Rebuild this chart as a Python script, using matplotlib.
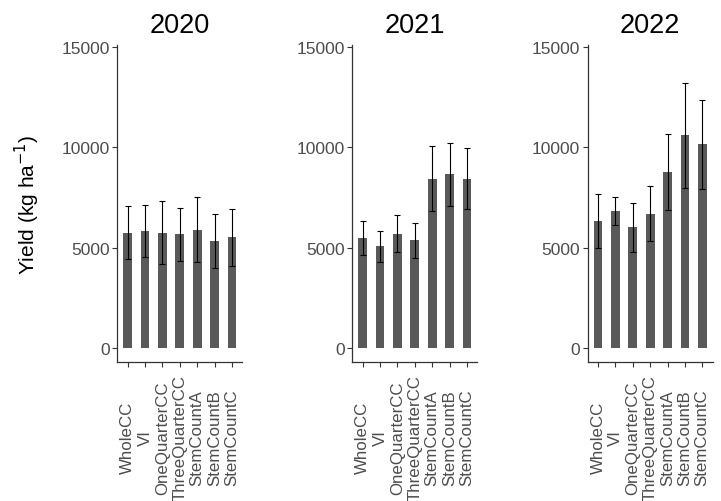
import matplotlib
matplotlib.use("Agg")
import matplotlib.pyplot as plt
import numpy as np

plt.rcParams['font.family'] = ['Liberation Sans', 'DejaVu Sans']

categories = ["WholeCC", "VI", "OneQuarterCC", "ThreeQuarterCC", "StemCountA", "StemCountB", "StemCountC"]
years = ["2020", "2021", "2022"]
means_2020 = [5750, 5850, 5750, 5670, 5900, 5350, 5520]
errs_2020 = [1320, 1280, 1570, 1330, 1620, 1340, 1420]
means_2021 = [5500, 5070, 5700, 5380, 8450, 8660, 8450]
errs_2021 = [840, 780, 920, 860, 1600, 1560, 1510]
means_2022 = [6330, 6830, 6020, 6700, 8780, 10600, 10150]
errs_2022 = [1340, 680, 1230, 1380, 1900, 2620, 2220]
yticks = [0, 5000, 10000, 15000]

means = [means_2020, means_2021, means_2022]
errs = [errs_2020, errs_2021, errs_2022]

W, H = 721, 502
fig = plt.figure(figsize=(W / 100, H / 100), dpi=100)
lefts = [117.3, 352.3, 587.7]
ax_w = 125
ax_top = 46
ax_bot = 363
grey = "#4D4D4D"

for i, yr in enumerate(years):
    ax = fig.add_axes([lefts[i] / W, 1 - ax_bot / H, ax_w / W, (ax_bot - ax_top) / H])
    x = np.arange(1, len(categories) + 1)
    ax.bar(x, means[i], width=0.5, color="#595959", zorder=2)
    ax.errorbar(x, means[i], yerr=errs[i], fmt="none", ecolor="black",
                elinewidth=0.8, capsize=2.3, capthick=0.8, zorder=3)
    ax.set_xlim(0.4, 7.6)
    ax.set_ylim(-680, 15100)
    ax.set_yticks(yticks)
    ax.set_yticklabels([str(v) for v in yticks], fontsize=12.5, color=grey)
    ax.set_xticks(x)
    ax.set_xticklabels(categories, rotation=90, fontsize=12.2, color=grey,
                       ha="center", va="center")
    ax.tick_params(axis="x", length=3.5, width=0.8, color="#333333", pad=50.5)
    ax.tick_params(axis="y", length=3.5, width=0.8, color="#333333", pad=2)
    for s in ["top", "right"]:
        ax.spines[s].set_visible(False)
    for s in ["left", "bottom"]:
        ax.spines[s].set_color("#333333")
        ax.spines[s].set_linewidth(0.9)
    ax.set_title(yr, fontsize=19.5, pad=9, color="black")
    if i == 0:
        ax.set_ylabel("Yield (kg ha$^{-1}$)", fontsize=15, labelpad=14)

fig.savefig("out.png", dpi=100)
